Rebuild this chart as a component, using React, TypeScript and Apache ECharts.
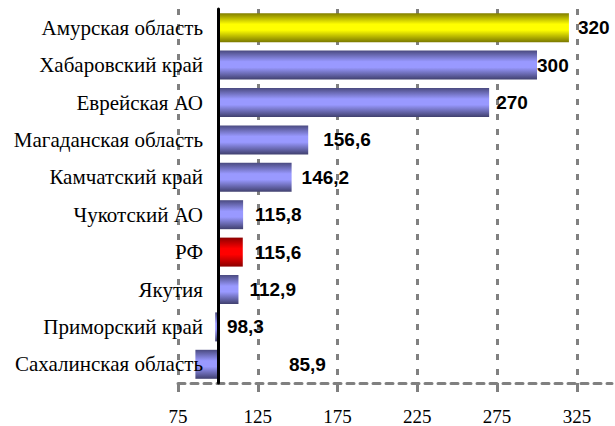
import React, { useEffect, useRef } from 'react';
import * as echarts from 'echarts';

const categories = [
  'Амурская область',
  'Хабаровский край',
  'Еврейская АО',
  'Магаданская область',
  'Камчатский край',
  'Чукотский АО',
  'РФ',
  'Якутия',
  'Приморский край',
  'Сахалинская область',
];
const values = [320, 300, 270, 156.6, 146.2, 115.8, 115.6, 112.9, 98.3, 85.9];
const baseline = 100;
const xMin = 75;
const xMax = 347;
const xInterval = 50;

// label distances from bar end (style only)
const labelGaps = [9, 0, 7, 15, 10, 12, 12, 11, 9, 71];

const grad = (edge: string, center: string, edge2: string) =>
  new echarts.graphic.LinearGradient(0, 0, 0, 1, [
    { offset: 0, color: edge },
    { offset: 0.38, color: center },
    { offset: 0.58, color: center },
    { offset: 1, color: edge2 },
  ]);

const fillFor = (name: string) => {
  if (name === 'Амурская область') return grad('#807d00', '#ffff00', '#7a7800');
  if (name === 'РФ') return grad('#8c0000', '#ff0000', '#8c0000');
  return grad('#4a4a80', '#9999ff', '#40406e');
};

const fmt = (v: number) => String(v).replace('.', ',');

export default function App() {
  const ref = useRef<HTMLDivElement>(null);
  useEffect(() => {
    if (!ref.current) return;
    const chart = echarts.init(ref.current, undefined, { renderer: 'svg' });
    chart.setOption({
      animation: false,
      backgroundColor: '#ffffff',
      grid: { left: 178, top: 9, height: 374, right: 3, containLabel: false, outerBoundsMode: 'none' },
      xAxis: {
        type: 'value',
        min: xMin,
        max: xMax,
        interval: xInterval,
        axisLine: { show: true, lineStyle: { color: '#808080', width: 3, type: [7, 6] } },
        axisTick: { show: true, length: 9, lineStyle: { color: '#808080', width: 3 } },
        splitLine: { show: true, showMaxLine: false, lineStyle: { color: '#808080', width: 3, type: [6, 9] } },
        axisLabel: {
          color: '#000',
          fontFamily: 'Liberation Serif',
          fontSize: 19,
          margin: 24,
          showMaxLabel: false,
        },
      },
      yAxis: {
        type: 'category',
        data: categories,
        inverse: true,
        offset: -40,
        z: 10,
        axisLine: { show: true, lineStyle: { color: '#000', width: 3 } },
        axisTick: { show: false },
        splitLine: { show: false },
        axisLabel: {
          color: '#000',
          fontFamily: 'Liberation Serif',
          fontSize: 21,
          margin: 15,
          overflow: 'none',
          hideOverlap: false,
        },
      },
      series: [
        {
          type: 'custom',
          encode: { x: 0, y: 1 },
          data: values.map((v, i) => [v, i]),
          renderItem: (params: any, api: any) => {
            const idx = params.dataIndex;
            const v = api.value(0);
            const p0 = api.coord([baseline, idx]);
            const p1 = api.coord([v, idx]);
            const h = 29;
            const x = Math.min(p0[0], p1[0]);
            const w = Math.abs(p1[0] - p0[0]);
            return {
              type: 'group',
              children: [
                {
                  type: 'rect',
                  shape: { x, y: p0[1] - h / 2, width: w, height: h },
                  style: { fill: fillFor(categories[idx]) },
                },
                {
                  type: 'text',
                  style: {
                    text: fmt(values[idx]),
                    x: Math.max(p0[0], p1[0]) + labelGaps[idx],
                    y: p0[1],
                    align: 'left',
                    verticalAlign: 'middle',
                    fontFamily: 'Liberation Sans',
                    fontWeight: 'bold',
                    fontSize: 19,
                    fill: '#000',
                  },
                },
              ],
            };
          },
        },
      ],
    });
    return () => chart.dispose();
  }, []);
  return (
    <div
      ref={ref}
      style={{ position: 'fixed', left: 0, top: 0, width: 615, height: 426, background: '#fff' }}
    />
  );
}
